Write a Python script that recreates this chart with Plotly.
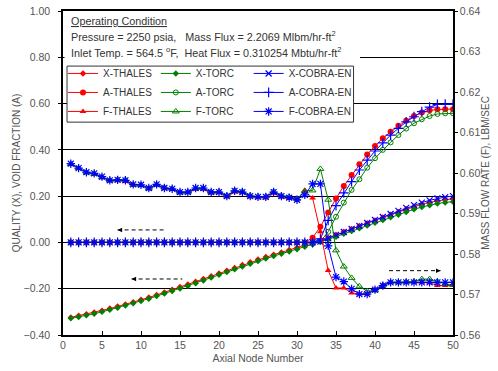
import plotly.graph_objects as go

nodes = list(range(1, 51))

# Quality X (left axis)
x_thales = [-0.324, -0.317, -0.310, -0.303, -0.295, -0.286, -0.277, -0.268, -0.258, -0.248,
            -0.238, -0.227, -0.216, -0.205, -0.193, -0.182, -0.170, -0.158, -0.146, -0.134,
            -0.122, -0.110, -0.098, -0.086, -0.074, -0.063, -0.053, -0.043, -0.033, -0.023,
            -0.013, -0.003, 0.008, 0.020, 0.033, 0.046, 0.058, 0.071, 0.083, 0.095,
            0.108, 0.120, 0.132, 0.144, 0.155, 0.165, 0.173, 0.180, 0.185, 0.188]
x_torc = [-0.328, -0.322, -0.315, -0.308, -0.300, -0.291, -0.282, -0.273, -0.263, -0.253,
          -0.243, -0.232, -0.221, -0.210, -0.199, -0.188, -0.176, -0.164, -0.152, -0.140,
          -0.128, -0.116, -0.104, -0.092, -0.080, -0.069, -0.059, -0.049, -0.039, -0.029,
          -0.019, -0.009, 0.002, 0.013, 0.025, 0.037, 0.049, 0.061, 0.073, 0.085,
          0.097, 0.109, 0.120, 0.132, 0.143, 0.153, 0.161, 0.168, 0.173, 0.176]
x_cobra = [0.0, 0.0, 0.0, 0.0, 0.0, 0.0, 0.0, 0.0, 0.0, 0.0,
           0.0, 0.0, 0.0, 0.0, 0.0, 0.0, 0.0, 0.0, 0.0, 0.0,
           0.0, 0.0, 0.0, 0.0, 0.0, 0.0, 0.0, 0.0, 0.0, 0.0,
           0.0, 0.0, 0.004, 0.018, 0.032, 0.045, 0.058, 0.071, 0.084, 0.097,
           0.110, 0.123, 0.136, 0.149, 0.161, 0.172, 0.182, 0.190, 0.196, 0.200]

# Void fraction A (left axis)
a_thales = [0.0] * 31 + [0.020, 0.068, 0.129, 0.190, 0.244, 0.291, 0.338, 0.380, 0.417,
                         0.450, 0.478, 0.504, 0.526, 0.546, 0.561, 0.571, 0.575, 0.576, 0.576]
a_torc = [0.0] * 32 + [0.004, 0.046, 0.111, 0.172, 0.227, 0.273, 0.323, 0.364,
                       0.400, 0.432, 0.464, 0.492, 0.515, 0.532, 0.546, 0.555, 0.558, 0.558]
a_cobra = [0.0] * 32 + [0.015, 0.095, 0.159, 0.214, 0.263, 0.313, 0.356, 0.395,
                        0.430, 0.464, 0.493, 0.521, 0.543, 0.565, 0.585, 0.596, 0.597, 0.597]

# Mass flow rate F (right axis, lbm/sec)
f_thales = [0.6022, 0.6011, 0.6001, 0.5997, 0.5990, 0.5980, 0.5981, 0.5979, 0.5970, 0.5969,
            0.5961, 0.5970, 0.5961, 0.5959, 0.5951, 0.5951, 0.5960, 0.5960, 0.5950, 0.5951,
            0.5941, 0.5953, 0.5951, 0.5941, 0.5939, 0.5938, 0.5950, 0.5940, 0.5937, 0.5935,
            0.5956, 0.5938, 0.5855, 0.5759, 0.5716, 0.5716, 0.5704, 0.5701, 0.5701, 0.5712,
            0.5724, 0.5730, 0.5730, 0.5730, 0.5730, 0.5730, 0.5729, 0.5722, 0.5722, 0.5722]
f_torc = [0.6022, 0.6012, 0.6001, 0.5998, 0.5989, 0.5982, 0.5984, 0.5983, 0.5971, 0.5970,
          0.5962, 0.5971, 0.5964, 0.5961, 0.5952, 0.5953, 0.5962, 0.5962, 0.5953, 0.5954,
          0.5944, 0.5957, 0.5954, 0.5944, 0.5942, 0.5942, 0.5954, 0.5944, 0.5941, 0.5936,
          0.5956, 0.5957, 0.6010, 0.5934, 0.5809, 0.5769, 0.5741, 0.5720, 0.5708, 0.5710,
          0.5722, 0.5730, 0.5730, 0.5731, 0.5732, 0.5738, 0.5738, 0.5732, 0.5726, 0.5724]
f_cobra = [0.6023, 0.6012, 0.6002, 0.5999, 0.5991, 0.5982, 0.5983, 0.5982, 0.5972, 0.5971,
           0.5963, 0.5972, 0.5963, 0.5961, 0.5953, 0.5953, 0.5963, 0.5963, 0.5953, 0.5953,
           0.5943, 0.5956, 0.5953, 0.5943, 0.5941, 0.5941, 0.5953, 0.5943, 0.5939, 0.5934,
           0.5946, 0.5973, 0.5973, 0.5820, 0.5743, 0.5732, 0.5714, 0.5701, 0.5701, 0.5712,
           0.5722, 0.5730, 0.5730, 0.5730, 0.5730, 0.5730, 0.5730, 0.5730, 0.5730, 0.5730]

left_ticks = [-0.4, -0.2, 0.0, 0.2, 0.4, 0.6, 0.8, 1.0]
right_ticks = [0.56, 0.57, 0.58, 0.59, 0.60, 0.61, 0.62, 0.63, 0.64]
x_ticks = [0, 5, 10, 15, 20, 25, 30, 35, 40, 45, 50]

RED = "#FF0000"
GREEN = "#008000"
BLUE = "#0000FF"
FONT = "Liberation Sans"
TXT = "#333333"
GRAY = "#555555"

fig = go.Figure()

def add(name, y, color, symbol, size, axis, legend, lw=1.0):
    fig.add_trace(go.Scatter(
        x=nodes, y=y, name=name, mode="lines+markers",
        line=dict(color=color, width=1),
        marker=dict(symbol=symbol, size=size, color=color,
                    line=dict(color=color, width=lw)),
        yaxis=axis, legend=legend))

add("X-THALES", x_thales, RED, "diamond", 5, "y", "legend", 0)
add("A-THALES", a_thales, RED, "circle", 6, "y", "legend", 0)
add("F-THALES", f_thales, RED, "triangle-up", 6, "y2", "legend", 0)
add("X-TORC", x_torc, GREEN, "diamond", 5, "y", "legend2", 0)
add("A-TORC", a_torc, GREEN, "circle-open", 5, "y", "legend2", 1)
add("F-TORC", f_torc, GREEN, "triangle-up-open", 6, "y2", "legend2", 1)
add("X-COBRA-EN", x_cobra, BLUE, "x-thin-open", 6, "y", "legend3", 1.2)
add("A-COBRA-EN", a_cobra, BLUE, "cross-thin-open", 7, "y", "legend3", 1.2)
add("F-COBRA-EN", f_cobra, BLUE, "asterisk-open", 7, "y2", "legend3", 1.2)

W, H = 498, 371
ML, MR, MT, MB = 63, 45, 11, 36

legend_common = dict(bgcolor="rgba(0,0,0,0)", borderwidth=0,
                     font=dict(family=FONT, size=10, color=TXT),
                     yanchor="top", xanchor="left", tracegroupgap=0,
                     orientation="v")
legend_y = 0.852

fig.update_layout(
    width=W, height=H,
    margin=dict(l=ML, r=MR, t=MT, b=MB, autoexpand=False),
    paper_bgcolor="white", plot_bgcolor="white",
    font=dict(family=FONT, size=11, color=TXT),
    legend=dict(x=0.0, y=legend_y, **legend_common),
    legend2=dict(x=0.238, y=legend_y, **legend_common),
    legend3=dict(x=0.476, y=legend_y, **legend_common),
    xaxis=dict(range=[0, 50], tickvals=x_ticks, ticks="inside", ticklen=4,
               tickcolor="black", showline=True, linecolor="black", linewidth=1.5,
               mirror=True, showgrid=False, zeroline=False, automargin=False,
               ticklabeloverflow="allow",
               tickfont=dict(family=FONT, size=10.5, color=GRAY),
               title=dict(text="Axial Node Number", standoff=4,
                          font=dict(family=FONT, size=10.5, color=GRAY))),
    yaxis=dict(range=[-0.4, 1.0], tickvals=left_ticks, tickformat=".2f",
               ticks="outside", ticklen=3, tickcolor="black",
               showline=True, linecolor="black", linewidth=1.5,
               showgrid=True, gridcolor="black", gridwidth=1, zeroline=False,
               ticklabelstandoff=6, automargin=False, ticklabeloverflow="allow",
               tickfont=dict(family=FONT, size=10.5, color=GRAY),
               title=dict(text="QUALITY (X), VOID FRACTION (A)", standoff=1,
                          font=dict(family=FONT, size=10, color=GRAY))),
    yaxis2=dict(range=[0.56, 0.64], tickvals=right_ticks, tickformat=".2f",
                overlaying="y", side="right", ticks="outside", ticklen=3,
                tickcolor="black", showline=True, linecolor="black", linewidth=1.5,
                showgrid=False, zeroline=False, automargin=False,
                ticklabeloverflow="allow",
                tickfont=dict(family=FONT, size=10.5, color=GRAY),
                title=dict(text="MASS FLOW RATE (F), LBM/SEC", standoff=1,
                           font=dict(family=FONT, size=10, color=GRAY))),
)

# white panel behind the operating-condition text and the legend frame
fig.add_shape(type="rect", xref="paper", yref="paper", x0=0.004, x1=0.7615,
              y0=0.842, y1=0.995, fillcolor="white", line=dict(width=0), layer="above")
fig.add_shape(type="rect", xref="paper", yref="paper", x0=0.0103, x1=0.745,
              y0=0.657, y1=0.830, fillcolor="white",
              line=dict(color="#333333", width=1), layer="above")

ann_font = dict(family=FONT, size=10.8, color=TXT)
fig.add_annotation(xref="paper", yref="paper", x=0.016, y=0.969, xanchor="left",
                   yanchor="middle", showarrow=False, font=ann_font,
                   text="<u>Operating Condition</u>")
fig.add_annotation(xref="paper", yref="paper", x=0.016, y=0.9228, xanchor="left",
                   yanchor="middle", showarrow=False, font=ann_font,
                   text="Pressure = 2250 psia,   Mass Flux = 2.2069 Mlbm/hr-ft<sup>2</sup>")
fig.add_annotation(xref="paper", yref="paper", x=0.016, y=0.873, xanchor="left",
                   yanchor="middle", showarrow=False, font=ann_font,
                   text="Inlet Temp. = 564.5 <sup>o</sup>F,  Heat Flux = 0.310254 Mbtu/hr-ft<sup>2</sup>")

# dashed axis-indicator arrows
arrows = [
    (7.0, 13.2, 0.054, "left"),
    (8.8, 15.3, -0.158, "left"),
    (41.8, 48.4, -0.122, "right"),
]
for xa, xb, yv, d in arrows:
    fig.add_shape(type="line", xref="x", yref="y", x0=xa, x1=xb, y0=yv, y1=yv,
                  line=dict(color="black", width=1, dash="4px,3px"), layer="above")
    tip = xa if d == "left" else xb
    tail = tip + 0.7 if d == "left" else tip - 0.7
    fig.add_annotation(xref="x", yref="y", x=tip, y=yv, axref="x", ayref="y",
                       ax=tail, ay=yv, text="", showarrow=True, arrowhead=2,
                       arrowsize=0.9, arrowwidth=1, arrowcolor="black")

# remove the browser's default 8px body margin so the figure fills the window
fig.write_html("out.html", config={"displayModeBar": False},
               post_script="document.body.style.margin='0px';")
